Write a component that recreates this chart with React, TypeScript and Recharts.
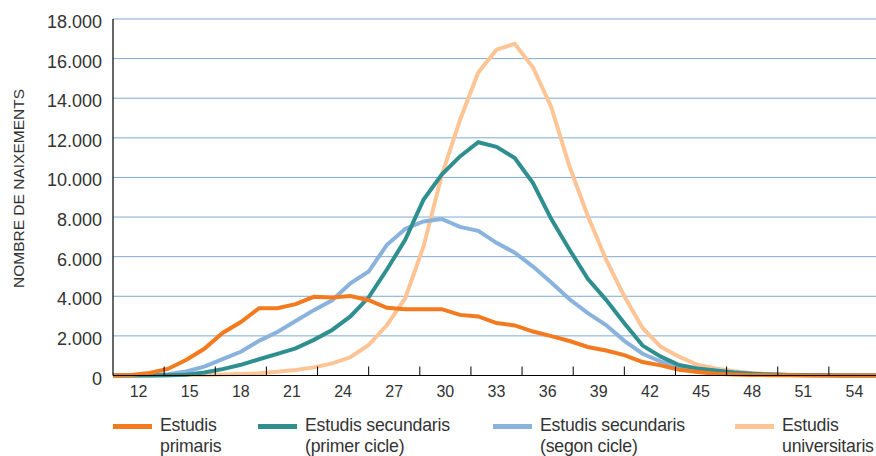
import { CartesianGrid, Line, LineChart, XAxis, YAxis } from "recharts";

// punts de la sèrie (43 punts repartits sobre tota l'amplada)
const punts = [
  0, 1, 2, 3, 4, 5, 6, 7, 8, 9, 10, 11, 12, 13, 14, 15, 16, 17, 18, 19, 20,
  21, 22, 23, 24, 25, 26, 27, 28, 29, 30, 31, 32, 33, 34, 35, 36, 37, 38, 39,
  40, 41, 42,
];

// etiquetes de l'eix d'edat
const etiquetesEdat = [12, 15, 18, 21, 24, 27, 30, 33, 36, 39, 42, 45, 48, 51, 54];
const marquesY = [0, 2000, 4000, 6000, 8000, 10000, 12000, 14000, 16000, 18000];

const primaris = [
  0, 30, 130, 330, 780, 1350, 2150, 2700, 3400, 3400,
  3600, 3970, 3940, 4010, 3800, 3420, 3340, 3340, 3350, 3060,
  2980, 2650, 2530, 2220, 1990, 1740, 1440, 1260, 1030, 680,
  510, 290, 180, 90, 50, 30, 15, 10, 5, 5,
  0, 0, 0,
];
const primerCicle = [
  0, 0, 0, 10, 40, 150, 320, 540, 820, 1090,
  1370, 1800, 2300, 2980, 3950, 5350, 6850, 8870, 10150, 11060,
  11780, 11550, 10980, 9720, 7900, 6350, 4880, 3820, 2640, 1510,
  950, 530, 360, 250, 150, 90, 50, 30, 20, 10,
  5, 0, 0,
];
const segonCicle = [
  0, 0, 20, 60, 200, 450, 830, 1200, 1750, 2200,
  2750, 3300, 3800, 4650, 5250, 6600, 7400, 7780, 7900, 7500,
  7300, 6700, 6200, 5500, 4700, 3850, 3150, 2550, 1750, 1100,
  700, 450, 300, 230, 150, 90, 50, 30, 15, 10,
  5, 0, 0,
];
const universitaris = [
  0, 0, 5, 10, 20, 30, 50, 80, 110, 190,
  280, 410, 610, 920, 1540, 2550, 3900, 6500, 10100, 12900,
  15300, 16450, 16750, 15550, 13550, 10550, 8050, 5850, 4000, 2400,
  1450, 950, 540, 360, 220, 120, 70, 40, 25, 15,
  10, 5, 0,
];

const FONT = '"Liberation Sans", Arial, Helvetica, sans-serif';
const TEXT = "#333";

const SERIES = [
  { key: "primaris", nom: ["Estudis", "primaris"], color: "#f47a20" },
  { key: "primerCicle", nom: ["Estudis secundaris", "(primer cicle)"], color: "#2f8e8e" },
  { key: "segonCicle", nom: ["Estudis secundaris", "(segon cicle)"], color: "#89b3dc" },
  { key: "universitaris", nom: ["Estudis", "universitaris"], color: "#fdc596" },
];
// ordre de dibuix: la taronja queda a sobre
const ORDRE = ["universitaris", "segonCicle", "primerCicle", "primaris"];
const AMPLADA_LLEGENDA = [145, 235, 242, 136];

const dades = punts.map((p, i) => ({
  punt: p,
  primaris: primaris[i],
  primerCicle: primerCicle[i],
  segonCicle: segonCicle[i],
  universitaris: universitaris[i],
}));

const milers = (v: number) => String(v).replace(/\B(?=(\d{3})+(?!\d))/g, ".");

function TickY({ x, y, payload }: any) {
  return (
    <text x={x} y={y + 9} textAnchor="end" fontSize={18} fill={TEXT} fontFamily={FONT}>
      {milers(payload.value)}
    </text>
  );
}

function TickEdat({ x, y, payload }: any) {
  const v = payload.value;
  if (etiquetesEdat.includes(v)) {
    return (
      <text x={x} y={y + 21} textAnchor="middle" fontSize={16} fill={TEXT} fontFamily={FONT}>
        {v}
      </text>
    );
  }
  return <line x1={x} x2={x} y1={y - 9} y2={y} stroke="#000" strokeWidth={1} />;
}

export default function App() {
  const ticksEdat = [...etiquetesEdat, ...etiquetesEdat.slice(0, -1).map((e) => e + 1.5)];

  return (
    <div
      style={{
        position: "fixed",
        top: 0,
        left: 0,
        width: 876,
        height: 456,
        overflow: "hidden",
        background: "#fff",
        fontFamily: FONT,
      }}
    >
      <LineChart width={880} height={456} data={dades} margin={{ top: 19, right: 0, bottom: 0, left: 0 }}>
        <CartesianGrid vertical={false} stroke="#7fa9d5" strokeWidth={1} xAxisId="edat" />
        <XAxis
          xAxisId="edat"
          type="number"
          dataKey="punt"
          domain={[10.5, 55.5]}
          allowDataOverflow
          ticks={ticksEdat}
          interval={0}
          height={80.5}
          tickSize={0}
          tickMargin={0}
          tickLine={false}
          axisLine={{ stroke: "#000", strokeWidth: 1.2 }}
          tick={TickEdat}
        />
        <XAxis xAxisId="punts" type="number" dataKey="punt" domain={[0, 42]} hide />
        <YAxis
          domain={[0, 18000]}
          ticks={marquesY}
          interval={0}
          width={113}
          tickSize={0}
          tickMargin={11}
          tickLine={false}
          axisLine={{ stroke: "#000", strokeWidth: 1.2 }}
          tick={TickY}
          label={() => (
            <text
              x={24}
              y={188.5}
              transform="rotate(-90 24 188.5)"
              textAnchor="middle"
              fontSize={15.5}
              fill={TEXT}
              fontFamily={FONT}
            >
              NOMBRE DE NAIXEMENTS
            </text>
          )}
        />
        {ORDRE.map((k) => {
          const s = SERIES.find((d) => d.key === k)!;
          return (
            <Line
              key={k}
              xAxisId="punts"
              type="linear"
              dataKey={k}
              stroke={s.color}
              strokeWidth={4}
              dot={false}
              activeDot={false}
              isAnimationActive={false}
            />
          );
        })}
      </LineChart>
      <ul
        style={{
          position: "absolute",
          top: 414.5,
          left: 113,
          margin: 0,
          padding: 0,
          listStyle: "none",
          display: "flex",
        }}
      >
        {SERIES.map((s, i) => (
          <li key={s.key} style={{ display: "flex", alignItems: "flex-start", width: AMPLADA_LLEGENDA[i] }}>
            <span
              style={{
                display: "inline-block",
                width: 39,
                height: 5,
                marginTop: 9.5,
                background: s.color,
                flexShrink: 0,
              }}
            />
            <span
              style={{
                marginLeft: 8,
                fontSize: 17.7,
                letterSpacing: -0.2,
                lineHeight: "21.5px",
                color: TEXT,
                whiteSpace: "nowrap",
              }}
            >
              {s.nom[0]}
              <br />
              {s.nom[1]}
            </span>
          </li>
        ))}
      </ul>
    </div>
  );
}
